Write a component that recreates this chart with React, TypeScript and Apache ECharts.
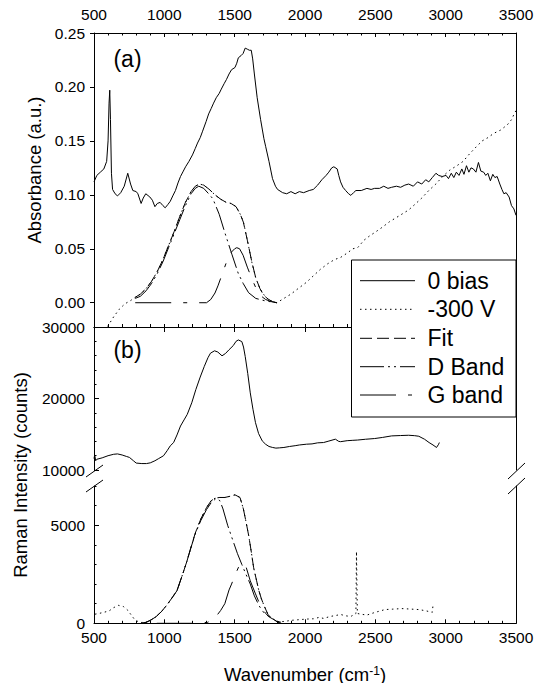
import React, { useEffect, useRef } from "react";
import * as echarts from "echarts";

// ---------- Panel (a): absorbance ----------
const absBias0: [number, number][] = [
  [500, 0.112], [520, 0.118], [545, 0.121], [570, 0.124], [590, 0.131], [600, 0.150], [607, 0.185], [612, 0.197],
  [617, 0.17], [624, 0.12], [632, 0.105], [650, 0.101], [667, 0.099], [690, 0.102], [715, 0.108], [740, 0.120],
  [760, 0.110], [776, 0.104], [800, 0.103], [812, 0.101], [835, 0.092], [850, 0.097], [868, 0.101], [897, 0.098],
  [915, 0.095], [933, 0.089], [950, 0.092], [970, 0.093], [990, 0.090], [1006, 0.088], [1025, 0.091], [1042, 0.094],
  [1060, 0.099], [1079, 0.104], [1097, 0.111], [1115, 0.117], [1135, 0.122], [1151, 0.126], [1175, 0.131], [1200, 0.137],
  [1220, 0.143], [1236, 0.148], [1255, 0.153], [1272, 0.159], [1297, 0.168], [1315, 0.175], [1333, 0.180], [1350, 0.185],
  [1369, 0.190], [1390, 0.194], [1405, 0.198], [1425, 0.203], [1442, 0.207], [1460, 0.212], [1478, 0.216], [1502, 0.218],
  [1515, 0.222], [1526, 0.227], [1545, 0.229], [1560, 0.231], [1575, 0.236], [1590, 0.235], [1605, 0.234], [1618, 0.234],
  [1628, 0.226], [1640, 0.212], [1660, 0.19], [1684, 0.170], [1696, 0.161], [1708, 0.152], [1720, 0.145], [1744, 0.131],
  [1769, 0.115], [1790, 0.108], [1805, 0.105], [1841, 0.102], [1870, 0.101], [1900, 0.103], [1930, 0.101], [1960, 0.103],
  [1990, 0.102], [2030, 0.104], [2059, 0.105], [2090, 0.109], [2120, 0.114], [2150, 0.118], [2169, 0.121], [2190, 0.125],
  [2205, 0.126], [2229, 0.124], [2240, 0.118], [2253, 0.112], [2270, 0.107], [2289, 0.104], [2310, 0.101], [2326, 0.0995],
  [2345, 0.102], [2362, 0.104], [2400, 0.104], [2440, 0.106], [2470, 0.105], [2495, 0.106], [2530, 0.106], [2560, 0.108],
  [2590, 0.106], [2616, 0.107], [2650, 0.108], [2680, 0.107], [2710, 0.109], [2737, 0.110], [2770, 0.108], [2800, 0.112],
  [2830, 0.110], [2858, 0.114], [2880, 0.112], [2905, 0.116], [2931, 0.120], [2950, 0.118], [2975, 0.117], [3003, 0.118],
  [3020, 0.115], [3040, 0.120], [3058, 0.116], [3076, 0.121], [3095, 0.118], [3115, 0.124], [3130, 0.119], [3148, 0.127],
  [3165, 0.121], [3180, 0.125], [3197, 0.124], [3215, 0.121], [3233, 0.130], [3250, 0.122], [3270, 0.121], [3285, 0.118],
  [3300, 0.120], [3318, 0.113], [3335, 0.119], [3350, 0.116], [3366, 0.117], [3385, 0.110], [3400, 0.105], [3414, 0.101],
  [3430, 0.102], [3451, 0.098], [3468, 0.090], [3485, 0.087], [3500, 0.081],
];

const absNeg300: [number, number][] = [
  [560, -0.035], [597, -0.022], [640, -0.013], [680, -0.006], [720, -0.001], [760, 0.002], [793, 0.005], [830, 0.008],
  [870, 0.013], [910, 0.020], [950, 0.029], [990, 0.040], [1030, 0.053], [1070, 0.066], [1110, 0.080], [1150, 0.093],
  [1190, 0.103], [1220, 0.108], [1250, 0.110], [1280, 0.109], [1320, 0.105], [1360, 0.100], [1400, 0.096], [1440, 0.093],
  [1478, 0.092], [1510, 0.089], [1540, 0.082], [1562, 0.075], [1590, 0.058], [1623, 0.037], [1650, 0.023], [1680, 0.013],
  [1710, 0.007], [1740, 0.003], [1769, 0.001], [1800, 0.0], [1850, 0.004], [1900, 0.008], [1950, 0.013], [2011, 0.019],
  [2060, 0.025], [2110, 0.031], [2160, 0.036], [2210, 0.040], [2253, 0.042], [2300, 0.046], [2340, 0.050], [2374, 0.051],
  [2420, 0.058], [2460, 0.062], [2495, 0.065], [2550, 0.070], [2600, 0.075], [2650, 0.079], [2700, 0.083], [2737, 0.086],
  [2780, 0.091], [2830, 0.097], [2880, 0.104], [2930, 0.110], [2979, 0.117], [3030, 0.123], [3080, 0.127], [3124, 0.131],
  [3170, 0.138], [3221, 0.145], [3260, 0.150], [3300, 0.153], [3342, 0.157], [3390, 0.160], [3439, 0.165], [3470, 0.170],
  [3490, 0.176], [3500, 0.178],
];

const absFit: [number, number][] = [
  [793, 0.005], [830, 0.008], [870, 0.013], [910, 0.020], [950, 0.029], [990, 0.040], [1030, 0.053], [1070, 0.066],
  [1110, 0.080], [1150, 0.093], [1190, 0.103], [1220, 0.108], [1250, 0.110], [1280, 0.109], [1320, 0.105], [1360, 0.100],
  [1400, 0.096], [1440, 0.093], [1478, 0.0917], [1510, 0.089], [1540, 0.082], [1562, 0.0746], [1590, 0.058], [1623, 0.0373],
  [1650, 0.023], [1680, 0.013], [1696, 0.0093], [1730, 0.004], [1769, 0.001], [1800, 0.0],
];

const absD: [number, number][] = [
  [793, 0.004], [830, 0.006], [870, 0.011], [910, 0.018], [950, 0.027], [990, 0.038], [1030, 0.051], [1070, 0.064],
  [1110, 0.077], [1150, 0.090], [1190, 0.101], [1220, 0.106], [1245, 0.108], [1280, 0.106], [1315, 0.101], [1345, 0.0964],
  [1390, 0.082], [1430, 0.065], [1480, 0.045], [1526, 0.027], [1560, 0.018], [1599, 0.0093], [1650, 0.004], [1720, 0.0016],
  [1800, 0.0],
];

const absG: [number, number][] = [
  [793, 0.0], [1300, 0.0], [1330, 0.003], [1360, 0.009], [1381, 0.0156], [1410, 0.026], [1440, 0.037], [1470, 0.046],
  [1500, 0.050], [1515, 0.051], [1535, 0.050], [1560, 0.044], [1590, 0.033], [1623, 0.022], [1660, 0.011], [1690, 0.006],
  [1720, 0.003], [1760, 0.001], [1800, 0.0],
];

// ---------- Panel (b): Raman ----------
const ramanBias0: [number, number][] = [
  [500, 11600], [505, 12100], [512, 11300], [520, 11500], [558, 11700], [600, 12000], [640, 12200], [667, 12250],
  [700, 12100], [730, 11900], [752, 11760], [780, 11300], [800, 10970], [840, 10900], [873, 10900], [900, 11000],
  [933, 11290], [960, 11600], [994, 11990], [1020, 12700], [1042, 13375], [1066, 13840], [1090, 14900], [1115, 16150],
  [1140, 17000], [1163, 17780], [1195, 19400], [1224, 21250], [1255, 23000], [1284, 24490], [1310, 25700], [1328, 26340],
  [1357, 26670], [1380, 26500], [1410, 25970], [1435, 26300], [1459, 26800], [1490, 27400], [1510, 28000], [1526, 28190],
  [1551, 27960], [1563, 27200], [1575, 25880], [1593, 23500], [1611, 20790], [1630, 18500], [1648, 16620], [1670, 15100],
  [1696, 14070], [1720, 13600], [1744, 13290], [1770, 13150], [1793, 13060], [1820, 13100], [1850, 13150], [1890, 13290],
  [1930, 13400], [1960, 13500], [2011, 13610], [2050, 13650], [2090, 13800], [2132, 13840], [2170, 14050], [2216, 14310],
  [2240, 14000], [2253, 13960], [2300, 14100], [2340, 14150], [2374, 14190], [2430, 14300], [2495, 14400], [2550, 14550],
  [2616, 14770], [2680, 14820], [2737, 14860], [2780, 14800], [2809, 14720], [2850, 14300], [2882, 13840], [2910, 13500],
  [2935, 13150], [2950, 13600], [2955, 13840],
];

const ramanNeg300: [number, number][] = [
  [507, 465], [534, 500], [570, 560], [607, 630], [640, 800], [673, 915], [710, 850], [740, 665], [765, 420], [788, 200],
  [803, 130], [827, 40], [870, 50], [900, 150], [940, 330], [980, 600], [1020, 950], [1060, 1350], [1090, 1665],
  [1130, 2500], [1160, 3150], [1188, 3835], [1220, 4600], [1260, 5330], [1300, 5900], [1333, 6250], [1360, 6380],
  [1393, 6415], [1430, 6415], [1470, 6480], [1502, 6550], [1538, 6415], [1562, 5830], [1580, 5200], [1599, 4500],
  [1617, 3700], [1635, 2830], [1655, 2200], [1672, 1665], [1690, 1250], [1708, 915], [1740, 400], [1769, 250],
  [1800, 80], [1820, 80], [1860, 100], [1900, 150], [1950, 180], [2011, 215], [2060, 230], [2100, 300], [2132, 250],
  [2180, 350], [2220, 400], [2253, 450], [2290, 380], [2326, 350], [2350, 450], [2362, 500], [2366, 3660], [2372, 500],
  [2398, 465], [2440, 420], [2495, 550], [2530, 620], [2568, 700], [2620, 720], [2688, 750], [2740, 730], [2809, 700],
  [2850, 650], [2894, 580], [2905, 560], [2911, 1000],
];

const ramanFit: [number, number][] = [
  [840, 0], [870, 50], [900, 150], [940, 330], [980, 600], [1020, 950], [1060, 1350], [1090, 1665], [1130, 2500],
  [1160, 3150], [1188, 3835], [1220, 4600], [1260, 5330], [1300, 5900], [1333, 6250], [1360, 6380], [1393, 6415],
  [1430, 6415], [1470, 6480], [1502, 6550], [1538, 6415], [1562, 5830], [1580, 5200], [1599, 4500], [1617, 3700],
  [1635, 2830], [1655, 2200], [1672, 1665], [1690, 1250], [1708, 915], [1740, 400], [1769, 250], [1800, 80], [1820, 50],
];

const ramanD: [number, number][] = [
  [840, 0], [870, 50], [900, 150], [940, 330], [980, 600], [1020, 950], [1060, 1350], [1090, 1665], [1130, 2500],
  [1160, 3150], [1188, 3835], [1220, 4550], [1260, 5250], [1300, 5800], [1333, 6150], [1370, 6380], [1395, 6250],
  [1417, 5830], [1450, 5000], [1490, 4165], [1520, 3550], [1551, 3000], [1580, 2500], [1611, 2000], [1640, 1400],
  [1672, 915], [1700, 600], [1744, 330], [1800, 100], [1830, 50],
];

const ramanG: [number, number][] = [
  [946, 0], [1224, 0], [1309, 50], [1357, 250], [1400, 650], [1430, 1000], [1460, 1700], [1478, 2000], [1502, 2450],
  [1530, 2900], [1555, 3080], [1580, 2900], [1611, 2165], [1648, 1500], [1680, 950], [1720, 500], [1760, 250],
  [1793, 100], [1820, 30],
];

// ---------- Axis ticks / labels ----------
const absTicks = [0, 0.05, 0.1, 0.15, 0.2, 0.25];
const lowerMajor = [0, 5000];
const legendNames = ["0 bias", "-300 V", "Fit", "D Band", "G band"];

const FONT = "'Liberation Sans', Arial, Helvetica, sans-serif";
const DOT = [1.5, 3.5];
const FITDASH = [12, 5];
const DDASH = [24, 4, 2, 4, 2, 4];
const GDASH = [36, 12, 4, 12];
const dashes = [null, DOT, FITDASH, DDASH, GDASH];

export default function App() {
  const ref = useRef<HTMLDivElement>(null);
  useEffect(() => {
    if (!ref.current) return;
    const chart = echarts.init(ref.current, null, { renderer: "svg" });
    const L = 94, W = 422;
    const axLine = { show: true, onZero: false, lineStyle: { color: "#000", width: 1 } };
    const plain = (v: number) => String(v);
    const lbl = { color: "#000", fontSize: 15.5, fontFamily: FONT, formatter: plain };

    const line = (name: string, data: any, xi: number, yi: number, dash: any, z = 3) => ({
      type: "line",
      name,
      data,
      xAxisIndex: xi,
      yAxisIndex: yi,
      showSymbol: false,
      symbol: "none",
      clip: true,
      z,
      lineStyle: { color: "#000", width: 1, type: dash || "solid" },
    });

    const legendTop = 260, legendRowY = [280.7, 309.3, 338.3, 366.7, 395];
    const graphics: any[] = [
      { type: "rect", z: 100, shape: { x: 351.5, y: legendTop, width: 164.5, height: 157 }, style: { fill: "#fff", stroke: "#000", lineWidth: 1 } },
    ];
    legendNames.forEach((n, i) => {
      graphics.push({
        type: "line", z: 101,
        shape: { x1: 360, y1: legendRowY[i], x2: 415, y2: legendRowY[i] },
        style: { stroke: "#000", lineWidth: 1, lineDash: dashes[i] || null },
      });
      graphics.push({
        type: "text", z: 101, x: 427.5, y: legendRowY[i],
        style: { text: n, fill: "#000", fontSize: 23, fontFamily: FONT, align: "left", verticalAlign: "middle" },
      });
    });
    // panel labels
    graphics.push({ type: "text", z: 101, x: 127.5, y: 59, style: { text: "(a)", fill: "#000", fontSize: 23, fontFamily: FONT, align: "center", verticalAlign: "middle" } });
    graphics.push({ type: "text", z: 101, x: 127.5, y: 350, style: { text: "(b)", fill: "#000", fontSize: 23, fontFamily: FONT, align: "center", verticalAlign: "middle" } });
    // axis titles
    graphics.push({ type: "text", z: 101, x: 34, y: 170, rotation: Math.PI / 2, style: { text: "Absorbance (a.u.)", fill: "#000", fontSize: 18.5, fontFamily: FONT, align: "center", verticalAlign: "middle" } });
    graphics.push({ type: "text", z: 101, x: 20, y: 475, rotation: Math.PI / 2, style: { text: "Raman Intensity (counts)", fill: "#000", fontSize: 18.5, fontFamily: FONT, align: "center", verticalAlign: "middle" } });
    graphics.push({
      type: "text", z: 101, x: 305, y: 674,
      style: {
        text: "{a|Wavenumber (cm}{s|-1}{a|)}", align: "center", verticalAlign: "middle",
        rich: {
          a: { fontSize: 18.5, fontFamily: FONT, fill: "#000", color: "#000", lineHeight: 18 },
          s: { fontSize: 12, fontFamily: FONT, fill: "#000", color: "#000", verticalAlign: "top", lineHeight: 18, padding: [0, 0, 6, 0] },
        },
      },
    });
    // axis break marks
    const brk = [
      [86, 477, 103, 465], [86, 492, 103, 480],
      [508, 479, 525, 463], [508, 494, 525, 478],
    ];
    brk.forEach((b) => graphics.push({ type: "line", z: 101, shape: { x1: b[0], y1: b[1], x2: b[2], y2: b[3] }, style: { stroke: "#000", lineWidth: 1 } }));

    const option: any = {
      animation: false,
      backgroundColor: "#fff",
      textStyle: { fontFamily: FONT },
      grid: [
        { left: L, top: 33, width: W, height: 294, outerBoundsMode: "none", containLabel: false },
        { left: L, top: 327, width: W, height: 143, outerBoundsMode: "none", containLabel: false },
        { left: L, top: 486, width: W, height: 137.3, outerBoundsMode: "none", containLabel: false },
      ],
      xAxis: [
        {
          gridIndex: 0, type: "value", position: "top", min: 500, max: 3500, interval: 500,
          axisLine: axLine, splitLine: { show: false },
          axisTick: { show: true, inside: true, length: 4, lineStyle: { color: "#000" } },
          minorTick: { show: true, splitNumber: 5, length: 2.5, lineStyle: { color: "#000" } },
          axisLabel: { ...lbl, margin: 11 },
        },
        {
          gridIndex: 0, type: "value", position: "bottom", min: 500, max: 3500, interval: 500,
          axisLine: axLine, splitLine: { show: false },
          axisTick: { show: true, inside: true, length: 3, lineStyle: { color: "#000" } },
          minorTick: { show: true, splitNumber: 5, length: 3, lineStyle: { color: "#000" } },
          axisLabel: { show: false },
        },
        {
          gridIndex: 1, type: "value", position: "top", min: 500, max: 3500, interval: 500,
          axisLine: axLine, splitLine: { show: false },
          axisTick: { show: true, inside: true, length: 5, lineStyle: { color: "#000" } },
          axisLabel: { show: false },
        },
        {
          gridIndex: 2, type: "value", position: "bottom", min: 500, max: 3500, interval: 500,
          axisLine: axLine, splitLine: { show: false },
          axisTick: { show: true, inside: true, length: 4, lineStyle: { color: "#000" } },
          minorTick: { show: true, splitNumber: 5, length: 2.5, lineStyle: { color: "#000" } },
          axisLabel: { ...lbl, margin: 6 },
        },
      ],
      yAxis: [
        {
          gridIndex: 0, type: "value", position: "left", min: -0.0225, max: 0.25,
          axisLine: axLine, splitLine: { show: false },
          axisTick: { show: true, inside: false, length: 4, customValues: absTicks, lineStyle: { color: "#000" } },
          axisLabel: { ...lbl, margin: 9, customValues: absTicks, formatter: (v: number) => v.toFixed(2) },
        },
        {
          gridIndex: 0, type: "value", position: "right", min: -0.0225, max: 0.25,
          axisLine: axLine, splitLine: { show: false }, axisTick: { show: false }, axisLabel: { show: false },
        },
        {
          gridIndex: 1, type: "value", position: "left", min: 10000, max: 30000, interval: 10000,
          axisLine: axLine, splitLine: { show: false },
          axisTick: { show: true, inside: true, length: 5, lineStyle: { color: "#000" } },
          minorTick: { show: true, splitNumber: 5, length: 2.5, lineStyle: { color: "#000" } },
          axisLabel: { ...lbl, margin: 9 },
        },
        {
          gridIndex: 1, type: "value", position: "right", min: 10000, max: 30000,
          axisLine: axLine, splitLine: { show: false }, axisTick: { show: false }, axisLabel: { show: false },
        },
        {
          gridIndex: 2, type: "value", position: "left", min: 0, max: 7000, interval: 1000,
          axisLine: axLine, splitLine: { show: false },
          axisTick: { show: true, inside: true, length: 2.5, lineStyle: { color: "#000" } },
          axisLabel: { ...lbl, margin: 9, formatter: (v: number) => (lowerMajor.indexOf(v) >= 0 ? String(v) : "") },
        },
        {
          gridIndex: 2, type: "value", position: "right", min: 0, max: 7000,
          axisLine: axLine, splitLine: { show: false }, axisTick: { show: false }, axisLabel: { show: false },
        },
        {
          gridIndex: 2, type: "value", position: "left", min: 0, max: 7000,
          axisLine: { show: false }, splitLine: { show: false },
          axisTick: { show: true, inside: true, length: 5, customValues: lowerMajor, lineStyle: { color: "#000" } },
          axisLabel: { show: false },
        },
      ],
      series: [
        line("0 bias", absBias0, 0, 0, null, 5),
        line("-300 V", absNeg300, 0, 0, DOT, 3),
        line("Fit", absFit, 0, 0, FITDASH, 4),
        line("D Band", absD, 0, 0, DDASH, 4),
        line("G band", absG, 0, 0, GDASH, 4),
        line("0 bias", ramanBias0, 2, 2, null, 5),
        line("-300 V", ramanNeg300, 3, 4, DOT, 3),
        line("Fit", ramanFit, 3, 4, FITDASH, 4),
        line("D Band", ramanD, 3, 4, DDASH, 4),
        line("G band", ramanG, 3, 4, GDASH, 4),
      ],
      graphic: graphics,
    };
    chart.setOption(option);
    return () => chart.dispose();
  }, []);
  return <div ref={ref} style={{ position: "absolute", left: 0, top: 0, width: 534, height: 683 }} />;
}
